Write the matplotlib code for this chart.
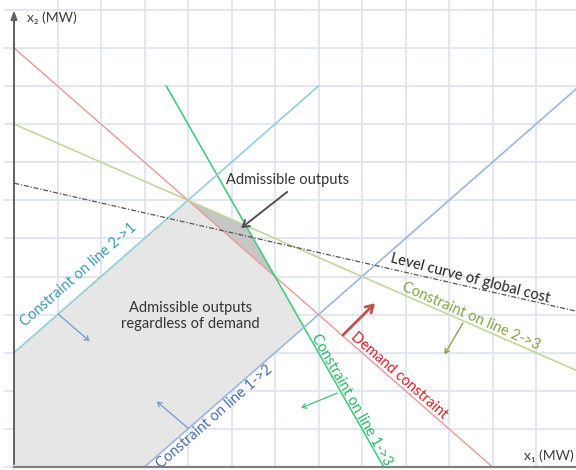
import numpy as np
import matplotlib
matplotlib.use("Agg")
import matplotlib.pyplot as plt
from matplotlib.patches import Polygon

plt.rcParams['font.family'] = ['Lato', 'DejaVu Sans']

# constraints written as a*x1 + b*x2 = c
demand = (1.0, 1.0, 11.0)
line_13 = (2.0, 1.0, 17.0)
line_21 = (-1.0, 1.0, 3.0)
line_12 = (1.0, -1.0, 3.0)
line_23 = (1.0, 2.0, 18.0)
level_cost = (0.26, 1.0, 7.45)

# x1 range over which each line is drawn
demand_x = [0.0, 11.0]
line_13_x = [3.5, 8.5]
line_21_x = [0.0, 7.0]
line_12_x = [3.0, 13.5]
line_23_x = [0.0, 13.5]
level_x = [0.0, 13.5]

grid_x = list(range(1, 13))
grid_y = list(range(0, 13))

# label / arrow anchors (x1, x2)
lbl_admissible = (6.28, 7.53)
arr_admissible = [(6.28, 7.22), (5.22, 6.27)]
lbl_regardless = (4.05, 3.97)
arr_21 = [(1.01, 4.02), (1.74, 3.30)]
arr_12 = [(4.00, 1.02), (3.28, 1.72)]
arr_13 = [(7.43, 1.94), (6.60, 1.55)]
arr_demand = [(7.56, 3.46), (8.30, 4.30)]
arr_23 = [(10.32, 3.78), (9.90, 2.96)]


def intersect(p, q):
    A = np.array([[p[0], p[1]], [q[0], q[1]]])
    return np.linalg.solve(A, np.array([p[2], q[2]]))


def line_y(c, xs):
    xs = np.asarray(xs)
    return (c[2] - c[0] * xs) / c[1]


fig = plt.figure(figsize=(5.76, 4.70), dpi=100)
ax = fig.add_axes([0, 0, 1, 1])
ax.set_xlim(-14 / 43.5, 562 / 43.5)
ax.set_ylim(-3 / 38.1, 467 / 38.1)
ax.axis('off')

grid_c = '#e1e5f0'
for gx in grid_x:
    ax.plot([gx, gx], [0, 13], color=grid_c, lw=1.3, zorder=0)
for gy in grid_y:
    ax.plot([-0.2, 13.5], [gy, gy], color=grid_c, lw=1.3, zorder=0)

# region allowed by the line limits alone
x_axis = (0.0, 1.0, 0.0)
y_axis = (1.0, 0.0, 0.0)
region = [intersect(x_axis, y_axis), intersect(y_axis, line_21),
          intersect(line_21, line_23), intersect(line_23, line_13),
          intersect(line_13, line_12), intersect(line_12, x_axis)]
ax.add_patch(Polygon(region, closed=True, fc='#e6e6e6', ec='none', zorder=1))

# admissible outputs once demand is met
feasible = [intersect(demand, line_23), intersect(line_23, line_13),
            intersect(line_13, demand)]
ax.add_patch(Polygon(feasible, closed=True, fc='#c6c6c6', ec='none', zorder=1))

ax.plot(demand_x, line_y(demand, demand_x), color='#e79a98', lw=1.0, zorder=2)
ax.plot(line_13_x, line_y(line_13, line_13_x), color='#45cc80', lw=1.2, zorder=2)
ax.plot(line_21_x, line_y(line_21, line_21_x), color='#92cddc', lw=1.2, zorder=2)
ax.plot(line_12_x, line_y(line_12, line_12_x), color='#9ab6de', lw=1.2, zorder=2)
ax.plot(line_23_x, line_y(line_23, line_23_x), color='#c3d69b', lw=1.2, zorder=2)
ax.plot(level_x, line_y(level_cost, level_x), color='#555555', lw=0.9,
        ls=(0, (4, 1.5, 1, 1.5)), zorder=2)

# axes with arrows
ax.annotate('', xy=(0, 12.06), xytext=(0, 0),
            arrowprops=dict(arrowstyle='-|>,head_length=0.5,head_width=0.18',
                            color='#606060', lw=1.4), zorder=3)
ax.plot([0, 13.5], [0, 0], color='#808080', lw=1.6, zorder=3)


def angle_of(c):
    a = ax.transData.transform_angles(np.array([np.degrees(np.arctan2(-c[0], c[1]))]),
                                      np.array([[0.0, 0.0]]))[0]
    # keep text upright
    a = (a + 90) % 180 - 90
    return a


def arrow(pts, color, lw=0.9, head=0.3):
    ax.annotate('', xy=pts[1], xytext=pts[0],
                arrowprops=dict(arrowstyle='->,head_length=%g,head_width=%g' % (head, head * 0.6),
                                color=color, lw=lw, shrinkA=0, shrinkB=0), zorder=4)


fs = 10.5
ax.text(0.3, 11.78, 'x₂ (MW)', fontsize=fs - 0.5, color='#404040', va='center', ha='left')
ax.text(11.72, 0.3, 'x₁ (MW)', fontsize=fs - 0.5, color='#404040', va='center', ha='left')

ax.text(*lbl_admissible, 'Admissible outputs', fontsize=fs, color='#333333',
        ha='center', va='center')
arrow(arr_admissible, '#505050', lw=1.4, head=0.45)
ax.text(*lbl_regardless, 'Admissible outputs\nregardless of demand', fontsize=fs,
        color='#333333', ha='center', va='center', linespacing=1.15)

ax.text(1.49, 5.04, 'Constraint on line 2->1', fontsize=fs, color='#3f9ab0',
        rotation=angle_of(line_21), ha='center', va='center', rotation_mode='anchor')
arrow(arr_21, '#6f9bd0')

ax.text(4.6, 1.31, 'Constraint on line 1->2', fontsize=fs, color='#4a6fa8',
        rotation=angle_of(line_12), ha='center', va='center', rotation_mode='anchor')
arrow(arr_12, '#6f9bd0')

ax.text(7.75, 1.76, 'Constraint on line 1->3', fontsize=fs, color='#2fb566',
        rotation=angle_of(line_13), ha='center', va='center', rotation_mode='anchor')
arrow(arr_13, '#45c27a')

ax.text(8.85, 2.4, 'Demand constraint', fontsize=fs, color='#d6222c',
        rotation=angle_of(demand), ha='center', va='center', rotation_mode='anchor')
arrow(arr_demand, '#c0504d', lw=2.0, head=0.5)

ax.text(10.48, 4.96, 'Level curve of global cost', fontsize=fs, color='#222222',
        rotation=angle_of(level_cost) - 1.5, ha='center', va='center', rotation_mode='anchor')

ax.text(10.5, 3.96, 'Constraint on line 2->3', fontsize=fs, color='#86a346',
        rotation=angle_of(line_23), ha='center', va='center', rotation_mode='anchor')
arrow(arr_23, '#7f9a45')

fig.savefig('out.png', dpi=100)
